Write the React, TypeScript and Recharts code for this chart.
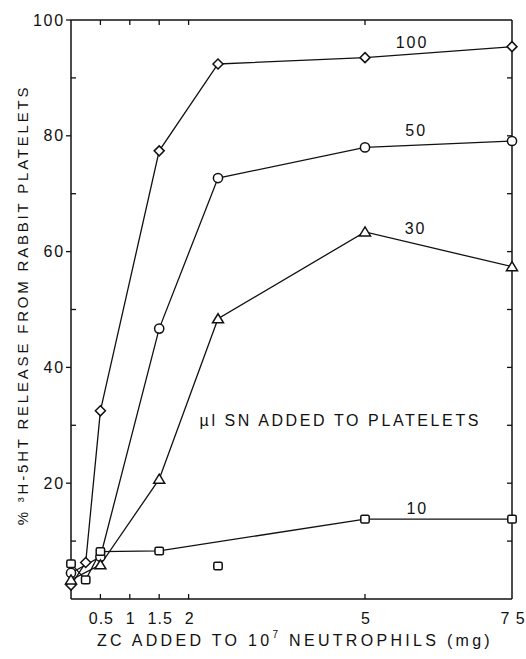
import { ComposedChart, Line, Scatter, XAxis, YAxis, ReferenceDot, Label } from "recharts";

// ZC dose (mg) and % 3H-5HT release, one pair of arrays per SN volume
const dose100 = [0, 0.25, 0.5, 1.5, 2.5, 5, 7.5];
const release100 = [2.4, 6.3, 32.5, 77.4, 92.4, 93.5, 95.4];
const dose50 = [0, 0.5, 1.5, 2.5, 5, 7.5];
const release50 = [4.5, 7.3, 46.7, 72.7, 78, 79.1];
const dose30 = [0, 0.5, 1.5, 2.5, 5, 7.5];
const release30 = [3.3, 5.9, 20.7, 48.4, 63.4, 57.4];
const dose10 = [0, 0.25, 0.5, 1.5, 5, 7.5];
const release10 = [6.1, 3.3, 8.2, 8.3, 13.8, 13.8];
// stray 10 µl point that is not on the line
const dose10Stray = [2.5];
const release10Stray = [5.7];

const xTicks = [0.5, 1, 1.5, 2, 5, 7.5];
const xTickLabels = ["0.5", "1", "1.5", "2", "5", "7 5"];
const topTicks = [0.5, 1, 1.5, 2, 5];
const yTicks = [0, 10, 20, 30, 40, 50, 60, 70, 80, 90, 100];

const seriesNames = ["100", "50", "30", "10"];
const seriesLabelX = [5.8, 5.87, 5.86, 5.89];
const seriesLabelY = [96.2, 81, 64, 15.7];

const FONT = "'Liberation Sans', Arial, sans-serif";
const INK = "#111";

const pairs = (xs: number[], ys: number[]) => xs.map((x, i) => ({ x, y: ys[i] }));

type Kind = "diamond" | "circle" | "triangle" | "square";

function Marker({ cx, cy, kind }: { cx: number; cy: number; kind: Kind }) {
  const common = { fill: "#fff", stroke: INK, strokeWidth: 1.5 };
  if (kind === "diamond")
    return <polygon points={`${cx},${cy - 5} ${cx + 5},${cy} ${cx},${cy + 5} ${cx - 5},${cy}`} {...common} />;
  if (kind === "circle") return <circle cx={cx} cy={cy} r={4.6} {...common} />;
  if (kind === "triangle")
    return <polygon points={`${cx},${cy - 5} ${cx + 5.5},${cy + 4} ${cx - 5.5},${cy + 4}`} {...common} />;
  return <rect x={cx - 4.2} y={cy - 3.8} width={8.4} height={7.6} rx={1.5} {...common} />;
}

const dotFor = (kind: Kind) => (p: any) =>
  <Marker key={`${kind}-${p.index}`} cx={p.cx} cy={p.cy} kind={kind} />;

function LeftTick({ x, y, payload }: any) {
  const v = payload.value;
  if (v === 0) return null;
  const major = v % 20 === 0;
  return (
    <g>
      <line x1={major ? x - 5 : x} x2={major ? x : x + 5} y1={y} y2={y} stroke={INK} strokeWidth={1.3} />
      {major && (
        <text x={x - 6} y={y} textAnchor="end" dominantBaseline="central" fontSize={16}
          fontFamily={FONT} letterSpacing={1.8} fill={INK}>
          {v}
        </text>
      )}
    </g>
  );
}

function RightTick({ x, y, payload }: any) {
  const v = payload.value;
  if (v === 0 || v === 100) return null;
  return <line x1={x - 5} x2={x} y1={y} y2={y} stroke={INK} strokeWidth={1.3} />;
}

function BottomTick({ x, y, payload }: any) {
  const i = xTicks.indexOf(payload.value);
  return (
    <g>
      {payload.value < 7.5 && <line x1={x} x2={x} y1={y} y2={y - 5} stroke={INK} strokeWidth={1.3} />}
      <text x={x + 1} y={y + 19} textAnchor="middle" dominantBaseline="central" fontSize={16}
        fontFamily={FONT} letterSpacing={1} fill={INK}>
        {xTickLabels[i]}
      </text>
    </g>
  );
}

function TopTick({ x, y }: any) {
  return <line x1={x} x2={x} y1={y} y2={y + 5} stroke={INK} strokeWidth={1.3} />;
}

export default function App() {
  return (
    <div style={{ position: "absolute", left: 0, top: 0 }}>
      <ComposedChart width={526} height={659} margin={{ top: 8, right: 8, bottom: 8, left: 8 }}
        style={{ fontFamily: FONT }}>
        <XAxis xAxisId="bottom" dataKey="x" type="number" domain={[0, 7.5]} ticks={xTicks}
          interval={0} height={52} tickSize={0} tickMargin={0} tickLine={false}
          axisLine={{ stroke: INK, strokeWidth: 1.5 }} tick={<BottomTick />}>
          <Label content={() => (
            <text x={295} y={640} textAnchor="middle" dominantBaseline="central" fontSize={16}
              fontFamily={FONT} letterSpacing={3.3} fill={INK}>
              ZC ADDED TO 10<tspan dy={-6} fontSize={10}>7</tspan><tspan dy={6}> NEUTROPHILS (mg)</tspan>
            </text>
          )} />
        </XAxis>
        <XAxis xAxisId="top" orientation="top" dataKey="x" type="number" domain={[0, 7.5]}
          allowDataOverflow ticks={topTicks} interval={0} height={12} tickSize={0} tickMargin={0}
          tickLine={false} axisLine={{ stroke: INK, strokeWidth: 1.5 }} tick={<TopTick />} />
        <YAxis yAxisId="left" type="number" domain={[0, 100]} ticks={yTicks} interval={0}
          width={63} tickSize={0} tickMargin={0} tickLine={false}
          axisLine={{ stroke: INK, strokeWidth: 1.5 }} tick={<LeftTick />}>
          <Label content={() => (
            <text x={22} y={305} textAnchor="middle" dominantBaseline="central" fontSize={15}
              fontFamily={FONT} letterSpacing={2.8} fill={INK} transform="rotate(-90 22 305)">
              % ³H-5HT RELEASE FROM RABBIT PLATELETS
            </text>
          )} />
        </YAxis>
        <YAxis yAxisId="right" orientation="right" type="number" domain={[0, 100]}
          allowDataOverflow ticks={yTicks} interval={0} width={6} tickSize={0} tickMargin={0}
          tickLine={false} axisLine={{ stroke: INK, strokeWidth: 1.5 }} tick={<RightTick />} />

        <Line xAxisId="bottom" yAxisId="left" data={pairs(dose100, release100)} dataKey="y"
          stroke={INK} strokeWidth={1.3} dot={dotFor("diamond")} activeDot={false} isAnimationActive={false} />
        <Line xAxisId="bottom" yAxisId="left" data={pairs(dose50, release50)} dataKey="y"
          stroke={INK} strokeWidth={1.3} dot={dotFor("circle")} activeDot={false} isAnimationActive={false} />
        <Line xAxisId="bottom" yAxisId="left" data={pairs(dose30, release30)} dataKey="y"
          stroke={INK} strokeWidth={1.3} dot={dotFor("triangle")} activeDot={false} isAnimationActive={false} />
        <Line xAxisId="bottom" yAxisId="left" data={pairs(dose10, release10)} dataKey="y"
          stroke={INK} strokeWidth={1.3} dot={dotFor("square")} activeDot={false} isAnimationActive={false} />
        <Scatter xAxisId="bottom" yAxisId="left" data={pairs(dose10Stray, release10Stray)} dataKey="y"
          shape={(p: any) => <Marker cx={p.cx} cy={p.cy} kind="square" />} isAnimationActive={false} />

        {seriesNames.map((name, i) => (
          <ReferenceDot key={name} xAxisId="bottom" yAxisId="left" x={seriesLabelX[i]} y={seriesLabelY[i]}
            r={0} fill="none" stroke="none"
            label={{ value: name, position: "center", fontSize: 16, fill: INK, fontFamily: FONT, letterSpacing: 2 }} />
        ))}
        <ReferenceDot xAxisId="bottom" yAxisId="left" x={4.58} y={30.9} r={0} fill="none" stroke="none"
          label={{ value: "µl SN ADDED TO PLATELETS", position: "center", fontSize: 16, fill: INK,
            fontFamily: FONT, letterSpacing: 2.6 }} />
      </ComposedChart>
    </div>
  );
}
